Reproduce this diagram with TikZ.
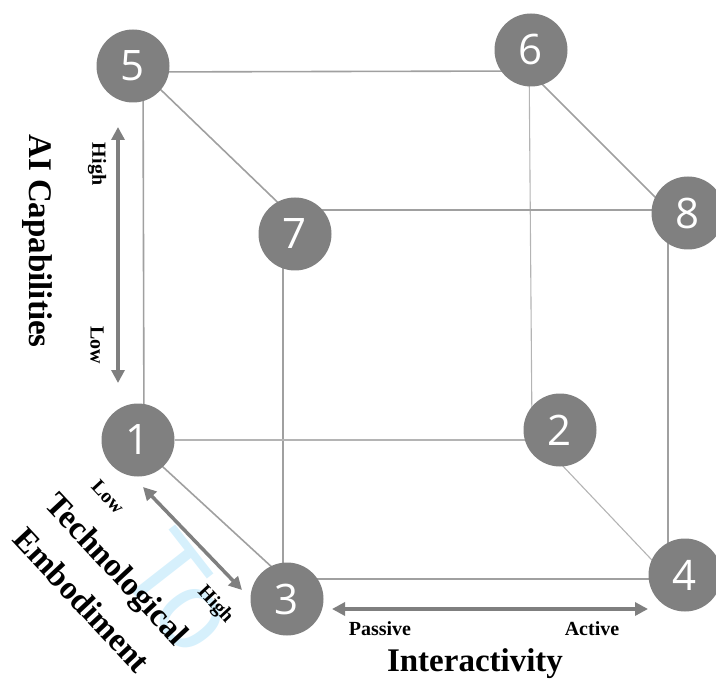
\documentclass[tikz,border=0pt]{standalone}
\usepackage{fontspec}
\setmainfont{Liberation Serif}
\newfontfamily\numfont{Open Sans}
\newfontfamily\wmfont{Liberation Sans}
\usetikzlibrary{arrows.meta,calc,backgrounds}
\definecolor{nodegray}{HTML}{808080}
\definecolor{edgegray}{HTML}{A0A0A0}
\definecolor{edgelight}{HTML}{B4B4B4}
\definecolor{arrowgray}{HTML}{7F7F7F}
\definecolor{wmblue}{HTML}{D6F0FC}
\tikzset{
  vertex/.style={circle, fill=nodegray, minimum size=73pt, inner sep=0pt, text=white,
    font=\numfont\fontsize{42}{42}\selectfont},
  edge/.style={draw=edgegray, line width=1.6pt},
  hidden/.style={draw=edgelight, line width=1.1pt},
  axis/.style={draw=arrowgray, line width=3.5pt,
    {Triangle[length=13pt,width=13pt]}-{Triangle[length=13pt,width=13pt]}},
  axistitle/.style={inner sep=0pt, font=\bfseries\fontsize{33}{40}\selectfont},
  axislabel/.style={inner sep=0pt, font=\bfseries\fontsize{20}{24}\selectfont},
}
\begin{document}
\begin{tikzpicture}[x=1pt, y=-1pt]
\useasboundingbox (0,0) rectangle (716,682);

% cube vertices
\node[vertex] (n1) at (138,440) {1};
\node[vertex] (n2) at (560,430) {2};
\node[vertex] (n3) at (287,599) {3};
\node[vertex] (n4) at (685,575) {4};
\node[vertex] (n5) at (133,66) {5};
\node[vertex] (n6) at (531,50) {6};
\node[vertex] (n7) at (295,234) {7};
\node[vertex] (n8) at (688,213) {8};

\begin{scope}[on background layer]
  % watermark
  \node[anchor=base west, rotate=-52, inner sep=0pt, text=wmblue,
        font=\wmfont\fontsize{110}{110}\selectfont] (wm) at (114,569) {To};
  % cube edges
  \draw[edge] ($(n5)+(0,6)$) -- ($(n6)+(0,21)$);
  \draw[edge] ($(n5)+(10,0)$) -- ($(n1)+(6,0)$);
  \draw[edge] ($(n5)+(0,-3)$) -- ($(n7)+(0,-15)$);
  \draw[edge] ($(n6)+(0,23)$) -- ($(n8)+(0,17)$);
  \draw[hidden] ($(n6)+(-2,0)$) -- ($(n2)+(-28,0)$);
  \draw[edge] ($(n7)+(0,-24)$) -- ($(n8)+(0,-3)$);
  \draw[edge] ($(n7)+(-12,0)$) -- ($(n3)+(-4,0)$);
  \draw[edge] ($(n8)+(-20,0)$) -- ($(n4)+(-17,0)$);
  \draw[hidden] (n1) -- ($(n2)+(0,10)$);
  \draw[edge] ($(n1)+(0,4)$) -- ($(n3)+(0,-18)$);
  \draw[hidden] ($(n2)+(0,33)$) -- ($(n4)+(0,20)$);
  \draw[edge] ($(n3)+(0,-20)$) -- ($(n4)+(0,4)$);
\end{scope}

% axis arrows
\coordinate (aiT) at (118,127);
\coordinate (aiB) at (118,383);
\draw[axis] (aiT) -- (aiB);
\coordinate (teT) at (143,487);
\coordinate (teB) at (242,590);
\draw[axis] (teT) -- (teB);
\coordinate (inL) at (332,609);
\coordinate (inR) at (648,609);
\draw[axis] (inL) -- (inR);

% AI capabilities
\node[axistitle, rotate=-90] (aititle) at (37,241) {AI Capabilities};
\node[axislabel, rotate=-90] (aihigh) at (97,164) {High};
\node[axislabel, rotate=-90] (ailow) at (97,345) {Low};

% technological embodiment
\node[axistitle, rotate=-47] (tetitle1) at (115,571) {Technological};
\node[axistitle, rotate=-47] (tetitle2) at (82,600) {Embodiment};
\node[axislabel, rotate=-47] (telow) at (108,497) {Low};
\node[axislabel, rotate=-47] (tehigh) at (215,605) {High};

% interactivity
\node[axislabel] (inpas) at (380,629) {Passive};
\node[axislabel] (inact) at (592,629) {Active};
\node[axistitle] (intitle) at (475,664) {Interactivity};
\end{tikzpicture}
\end{document}
